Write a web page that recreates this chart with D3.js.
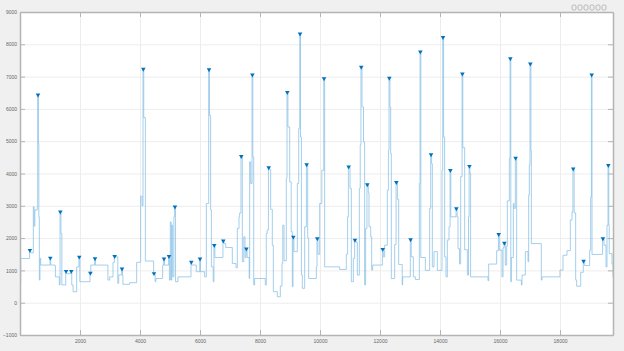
<!DOCTYPE html>
<html>
<head>
<meta charset="utf-8">
<script src="https://cdn.jsdelivr.net/npm/d3@7"></script>
<style>
  html, body { margin: 0; padding: 0; background: #f0f0f0; }
  svg { display: block; font-family: "DejaVu Sans", sans-serif; }
</style>
</head>
<body>
<div id="chart"></div>
<script>
// step signal: value holds from sigX[i] until sigX[i+1]
const sigX = [0, 22, 320, 345, 444, 470, 495, 575, 590, 615, 628, 645, 665, 690, 1000, 1025, 1170, 1180, 1310, 1335,
  1365, 1395, 1525, 1550, 1700, 1725, 1770, 1890, 1965, 1995, 2335, 2360, 2490, 2515, 2930, 2990, 3100, 3145, 3260, 3290,
  3390, 3415, 3430, 3655, 3889, 4022, 4070, 4100, 4125, 4178, 4455, 4505, 4530, 4755, 4790, 4815, 4955, 4980, 5010, 5040,
  5060, 5090, 5130, 5155, 5185, 5266, 5700, 5725, 5877, 5990, 6015, 6155, 6211, 6290, 6315, 6355, 6380, 6440, 6465, 6495,
  6765, 6800, 6855, 7077, 7200, 7244, 7300, 7322, 7365, 7411, 7460, 7500, 7535, 7570, 7640, 7655, 7690, 7735, 7760, 7790,
  7820, 8177, 8210, 8240, 8280, 8320, 8355, 8410, 8444, 8577, 8677, 8733, 8760, 8800, 8877, 8900, 8930, 8989, 9040, 9077,
  9100, 9130, 9244, 9290, 9325, 9350, 9380, 9411, 9489, 9545, 9590, 9622, 9877, 9900, 9930, 9989, 10060, 10125, 10155, 10655,
  10877, 10920, 10945, 11000, 11044, 11111, 11155, 11200, 11244, 11311, 11340, 11365, 11400, 11450, 11488, 11520, 11565, 11610, 11633, 11690,
  11722, 11755, 12080, 12110, 12155, 12244, 12280, 12300, 12330, 12355, 12377, 12489, 12535, 12580, 12622, 12740, 12755, 13010, 13040, 13111,
  13177, 13311, 13335, 13360, 13511, 13655, 13690, 13720, 13744, 13800, 13911, 14066, 14090, 14120, 14155, 14200, 14244, 14300, 14335, 14360,
  14535, 14570, 14600, 14650, 14689, 14735, 14760, 14822, 14911, 14950, 14970, 14995, 15020, 15599, 15622, 15888, 15945, 15977, 16066, 16100,
  16135, 16177, 16222, 16244, 16311, 16335, 16360, 16377, 16444, 16466, 16510, 16540, 16555, 16711, 16733, 16844, 16933, 16955, 16977, 17000,
  17030, 17044, 17377, 17399, 17999, 18099, 18233, 18344, 18400, 18430, 18470, 18522, 18555, 18689, 18775, 18822, 18988, 19022, 19045, 19066,
  19420, 19466, 19533, 19566, 19600, 19625, 19640, 19733, 19766];
const sigY = [550, 1370, 1610, 1545, 2970, 2370, 2870, 3000, 6420, 4930, 2660, 700, 1370, 1165, 1370, 1165, 1130, 800, 550, 2800,
  2140, 550, 960, 900, 960, 550, 340, 1110, 1400, 650, 900, 1165, 1350, 1165, 700, 800, 1250, 1420, 600, 860,
  1030, 860, 570, 620, 1250, 3300, 3000, 7215, 5730, 1290, 890, 650, 750, 1165, 1340, 1165, 1420, 700, 2500, 700,
  2400, 800, 2660, 2950, 650, 800, 1240, 1165, 960, 1340, 960, 800, 3070, 7200, 5800, 2870, 1110, 650, 1760, 1400,
  1900, 1830, 1710, 1216, 1080, 2300, 2660, 2780, 4515, 1270, 2040, 1400, 1650, 1400, 750, 4360, 3690, 7040, 4515, 550,
  750, 550, 2140, 2250, 4165, 4120, 2890, 1780, 340, 185, 515, 1216, 2400, 1300, 3850, 6500, 5440, 3740, 2200, 495,
  2020, 1580, 3690, 5400, 8310, 5130, 855, 445, 2350, 4260, 2000, 750, 1110, 1970, 1500, 3070, 4100, 6920, 1110, 1030,
  1500, 2660, 4190, 3540, 650, 1370, 1920, 1870, 855, 3540, 4880, 7280, 6060, 4980, 550, 2300, 3640, 3400, 2350, 2040,
  1010, 1165, 1640, 1420, 1780, 3480, 4720, 6940, 6060, 4620, 750, 1800, 3710, 3200, 1185, 550, 800, 1940, 1420, 800,
  720, 3690, 7750, 1400, 1000, 2920, 4570, 4300, 1110, 1580, 1000, 4100, 8200, 5130, 1420, 800, 1940, 2350, 4080, 2660,
  2900, 2660, 1670, 1200, 3900, 7070, 4800, 1640, 855, 2660, 4210, 4000, 800, 680, 1196, 1610, 2100, 1630, 800, 1700,
  1830, 1165, 1750, 3150, 4460, 7540, 650, 1400, 3070, 2920, 4460, 4400, 700, 550, 855, 1580, 1270, 3330, 4260, 7380,
  4700, 1830, 700, 800, 1010, 1470, 1610, 2560, 2820, 4130, 2780, 700, 510, 940, 1270, 1150, 1630, 3270, 7040, 1495,
  1970, 1780, 1110, 2400, 4240, 2400, 1520, 1200, 800];

// detected peaks (marked with triangles)
const peakX = [330, 600, 1010, 1345, 1535, 1710, 1975, 2345, 2500, 3155, 3400, 4110, 4465, 4800, 4965, 5165, 5710, 6000, 6300, 6475,
  6775, 7375, 7545, 7745, 8290, 8910, 9110, 9335, 9555, 9910, 10135, 10955, 11165, 11375, 11575, 12090, 12310, 12545, 13020, 13345,
  13700, 14100, 14345, 14545, 14745, 14980, 15955, 16145, 16345, 16520, 17010, 18440, 18785, 19055, 19430, 19610];
const peakY = [1610, 6420, 1370, 2800, 960, 960, 1400, 900, 1350, 1420, 1030, 7215, 890, 1340, 1420, 2950, 1240, 1340, 7200, 1760,
  1900, 4515, 1650, 7040, 4165, 6500, 2020, 8310, 4260, 1970, 6920, 4190, 1920, 7280, 3640, 1640, 6940, 3710, 1940, 7750,
  4570, 8200, 4080, 2900, 7070, 4210, 2100, 1830, 7540, 4460, 7380, 4130, 1270, 7040, 1970, 4240];

const xTicks = [2000, 4000, 6000, 8000, 10000, 12000, 14000, 16000, 18000];
const yTicks = [-1000, 0, 1000, 2000, 3000, 4000, 5000, 6000, 7000, 8000, 9000];

const W = 624, H = 351;
const margin = { top: 12, right: 11, bottom: 16, left: 20 };
const width = W - margin.left - margin.right;
const height = H - margin.top - margin.bottom;

const svg = d3.select("#chart").append("svg")
    .attr("width", W)
    .attr("height", H);

const g = svg.append("g")
    .attr("transform", `translate(${margin.left},${margin.top})`);

const x = d3.scaleLinear().domain([0, 19766]).range([0, width]);
const y = d3.scaleLinear().domain([-1000, 9000]).range([height, 0]);
const fmt = d3.format("d");

g.append("rect")
    .attr("width", width)
    .attr("height", height)
    .attr("fill", "#ffffff");

// grid
g.append("g")
    .attr("class", "grid")
    .call(d3.axisBottom(x).tickValues(xTicks).tickSize(height).tickFormat(""))
    .call(a => a.select(".domain").remove())
    .call(a => a.selectAll("line").attr("stroke", "#ededed"));
g.append("g")
    .attr("class", "grid")
    .call(d3.axisLeft(y).tickValues(yTicks).tickSize(-width).tickFormat(""))
    .call(a => a.select(".domain").remove())
    .call(a => a.selectAll("line").attr("stroke", "#ededed"));

// signal
const data = sigX.map((d, i) => [d, sigY[i]]);
const line = d3.line()
    .x(d => x(d[0]))
    .y(d => y(d[1]))
    .curve(d3.curveStepAfter);

g.append("path")
    .datum(data)
    .attr("fill", "none")
    .attr("stroke", "#86bfe6")
    .attr("stroke-width", 0.75)
    .attr("d", line);

// peak markers
const tri = d3.symbol().type(d3.symbolTriangle).size(9);
g.selectAll(".peak")
    .data(peakX.map((d, i) => [d, peakY[i]]))
    .enter().append("path")
    .attr("class", "peak")
    .attr("d", tri)
    .attr("fill", "#0072bd")
    .attr("transform", d => `translate(${x(d[0])},${y(d[1]) - 0.5}) rotate(180)`);

// axes with inward ticks, boxed
const axisColor = "#b4b4b4";
const styleAxis = a => {
    a.select(".domain").attr("stroke", axisColor).attr("stroke-width", 1.5);
    a.selectAll(".tick line").attr("stroke", axisColor);
    a.selectAll(".tick text").attr("fill", "#666").style("font-size", "5px");
};

g.append("g")
    .attr("transform", `translate(0,${height})`)
    .call(d3.axisBottom(x).tickValues(xTicks).tickSize(-5).tickSizeOuter(0).tickPadding(4).tickFormat(fmt))
    .call(styleAxis);
g.append("g")
    .call(d3.axisTop(x).tickValues(xTicks).tickSize(-5).tickSizeOuter(0).tickFormat(""))
    .call(styleAxis);
g.append("g")
    .call(d3.axisLeft(y).tickValues(yTicks).tickSize(-5).tickSizeOuter(0).tickPadding(3).tickFormat(fmt))
    .call(styleAxis);
g.append("g")
    .attr("transform", `translate(${width},0)`)
    .call(d3.axisRight(y).tickValues(yTicks).tickSize(-5).tickSizeOuter(0).tickFormat(""))
    .call(styleAxis);

// figure toolbar hint (top right)
const tb = svg.append("g").attr("transform", "translate(572,8)");
[0, 6, 12, 18, 24, 30].forEach(dx => {
    tb.append("rect").attr("x", dx).attr("y", -3).attr("width", 4).attr("height", 5).attr("rx", 1.5)
      .attr("fill", "none").attr("stroke", "#a0a0a0").attr("stroke-width", 0.7);
});
</script>
</body>
</html>
